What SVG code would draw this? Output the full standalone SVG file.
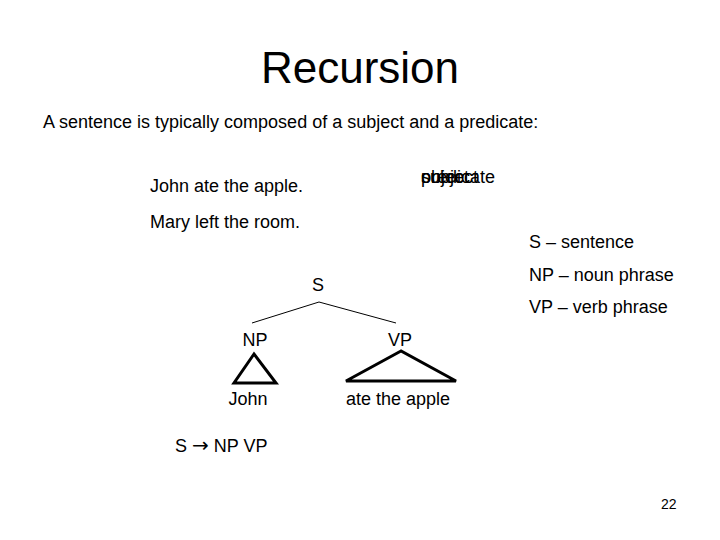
<svg xmlns="http://www.w3.org/2000/svg" width="720" height="540" viewBox="0 0 720 540">
<style>
text{font-family:"Liberation Sans",Arial,sans-serif;fill:#000}
.t{font-size:44px}
.b{font-size:18px}
.n{font-size:18px}
.pg{font-size:14px}
.ar{font-family:"DejaVu Sans",sans-serif;font-size:20px}
.ln{stroke:#000;stroke-width:1;fill:none}
.tri{stroke:#000;stroke-width:3;fill:none;stroke-linejoin:miter}
</style>
<rect width="720" height="540" fill="#fff"/>
<text class="t" x="360" y="83" text-anchor="middle">Recursion</text>
<text class="b" x="43" y="128">A sentence is typically composed of a subject and a predicate:</text>
<text class="b" x="150" y="192">John ate the apple.</text>
<text class="b" x="150" y="228">Mary left the room.</text>
<g id="labels-overlap">
<text class="b" x="421" y="183">subject</text>
<text class="b" x="421" y="183">object</text>
<text class="b" x="421" y="183">predicate</text>
</g>
<g id="legend">
<text class="b" x="529" y="248">S – sentence</text>
<text class="b" x="529" y="281">NP – noun phrase</text>
<text class="b" x="529" y="313">VP – verb phrase</text>
</g>
<g id="connectors">
<path class="ln" d="M252,323 L319,302 L396,323"/>
</g>
<g id="node-S"><text class="n" x="318" y="291" text-anchor="middle">S</text></g>
<g id="node-NP"><text class="n" x="255" y="346" text-anchor="middle">NP</text>
<polygon class="tri" points="254,354 234,383 276,383"/></g>
<g id="node-VP"><text class="n" x="400" y="346" text-anchor="middle">VP</text>
<polygon class="tri" points="401,351 346,381 456,381"/></g>
<g id="node-John"><text class="n" x="248" y="405" text-anchor="middle">John</text></g>
<g id="node-ate"><text class="n" x="398" y="405" text-anchor="middle">ate the apple</text></g>
<text class="b" x="175" y="452">S <tspan class="ar">→</tspan> NP VP</text>
<text class="pg" x="661" y="509">22</text>
</svg>
